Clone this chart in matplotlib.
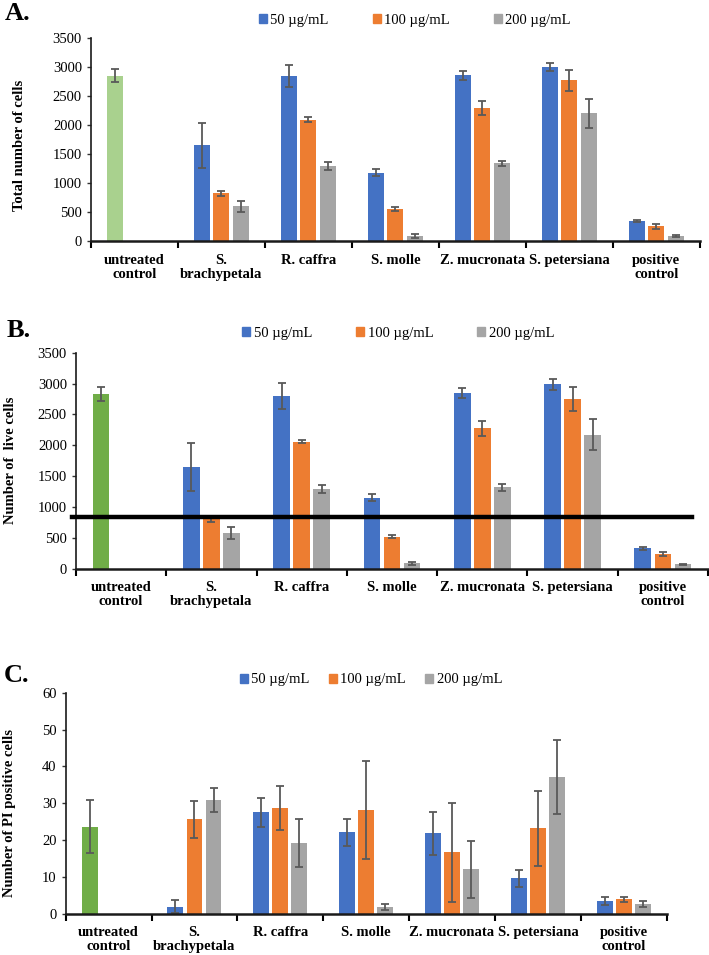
import numpy as np
import matplotlib
matplotlib.use('Agg')
import matplotlib.pyplot as plt
from matplotlib.patches import Patch

plt.rcParams['font.family'] = ['Liberation Serif', 'DejaVu Serif']

# categories on the x axis
categories = ['untreated\ncontrol', 'S.\nbrachypetala', 'R. caffra', 'S. molle',
              'Z. mucronata', 'S. petersiana', 'positive\ncontrol']
doses = ['50 µg/mL', '100 µg/mL', '200 µg/mL']

# A. total number of cells (untreated control has only one bar)
total_50 = [2850, 1650, 2845, 1180, 2855, 3000, 345]
total_100 = [np.nan, 820, 2095, 550, 2295, 2770, 255]
total_200 = [np.nan, 600, 1298, 88, 1338, 2207, 88]
total_50_err = [115, 390, 185, 65, 75, 75, 25]
total_100_err = [0, 50, 35, 40, 120, 180, 40]
total_200_err = [0, 95, 70, 30, 45, 250, 10]

# B. number of live cells
live_50 = [2826, 1650, 2800, 1152, 2843, 2988, 330]
live_100 = [np.nan, 800, 2058, 518, 2275, 2745, 243]
live_200 = [np.nan, 574, 1287, 85, 1320, 2172, 72]
live_50_err = [112, 390, 210, 62, 80, 85, 27]
live_100_err = [0, 45, 28, 25, 120, 195, 35]
live_200_err = [0, 95, 68, 22, 55, 255, 8]
live_threshold = 845

# C. number of PI positive cells
pi_50 = [23.6, 1.9, 27.5, 22.1, 21.8, 9.6, 3.5]
pi_100 = [np.nan, 25.7, 28.7, 28.1, 16.7, 23.2, 3.9]
pi_200 = [np.nan, 30.8, 19.3, 1.9, 12.1, 37.1, 2.6]
pi_50_err = [7.2, 1.8, 4.0, 3.7, 5.8, 2.3, 1.0]
pi_100_err = [0, 5.0, 6.0, 13.3, 13.4, 10.2, 0.7]
pi_200_err = [0, 3.3, 6.5, 0.8, 7.7, 10.0, 0.9]

blue = '#4472C4'
orange = '#ED7D31'
gray = '#A5A5A5'
err_color = '#595959'

fig = plt.figure(figsize=(7.09, 9.55), dpi=100)


def draw_panel(rect, s50, s100, s200, e50, e100, e200, ctrl_color, ymax, ystep,
               ylabel, ylabel_xy, letter, letter_xy, legend_xy, colspace):
    ax = fig.add_axes(rect)
    x = np.arange(len(categories))
    w = 0.185
    off = 0.222
    cols50 = [ctrl_color] + [blue] * (len(categories) - 1)
    ekw = dict(ecolor=err_color, elinewidth=1.3, capsize=3, capthick=1.3)
    ax.bar(x - off, s50, w, color=cols50, yerr=e50, error_kw=ekw, zorder=2)
    ax.bar(x, s100, w, color=orange, yerr=e100, error_kw=ekw, zorder=2)
    ax.bar(x + off, s200, w, color=gray, yerr=e200, error_kw=ekw, zorder=2)

    ax.set_xlim(-0.5, len(categories) - 0.5)
    ax.set_ylim(0, ymax)
    ax.set_yticks(np.arange(0, ymax + ystep / 2, ystep))
    ax.tick_params(axis='y', labelsize=10.5, length=3, width=1, color='#333333')

    # boundary ticks at major positions, labels at minor positions
    ax.set_xticks(np.arange(-0.5, len(categories), 1.0))
    ax.set_xticklabels([])
    ax.set_xticks(x, minor=True)
    ax.set_xticklabels(categories, minor=True, fontweight='bold', fontsize=10.5,
                       linespacing=1.1)
    ax.tick_params(axis='x', which='major', length=5, width=1.5, direction='out')
    ax.tick_params(axis='x', which='minor', length=0, pad=9)

    for s in ['top', 'right']:
        ax.spines[s].set_visible(False)
    ax.spines['bottom'].set_linewidth(1.8)
    ax.spines['left'].set_linewidth(1.2)
    ax.spines['bottom'].set_color('#1a1a1a')
    ax.spines['left'].set_color('#1a1a1a')

    ax.set_ylabel(ylabel, fontweight='bold', fontsize=10.5)
    ax.yaxis.set_label_coords(*ylabel_xy)

    fig.text(letter_xy[0], letter_xy[1], letter, fontsize=19, fontweight='bold',
             ha='left', va='center')

    handles = [Patch(color=blue), Patch(color=orange), Patch(color=gray)]
    fig.legend(handles, doses, ncol=3, frameon=False, fontsize=10.5,
               loc='center', bbox_to_anchor=legend_xy,
               handlelength=0.55, handleheight=0.55, handletextpad=0.25,
               columnspacing=colspace)
    return ax


draw_panel([0.1283, 0.7476, 0.8587, 0.2126], total_50, total_100, total_200,
           total_50_err, total_100_err, total_200_err, '#A9D18E', 3500, 500,
           'Total number of cells', (-0.106, 0.47), 'A.', (0.006, 0.986),
           (0.585, 0.979), 3.0)

axb = draw_panel([0.1072, 0.4045, 0.8914, 0.2262], live_50, live_100, live_200,
                 live_50_err, live_100_err, live_200_err, '#70AD47', 3500, 500,
                 'Number of  live cells', (-0.094, 0.50), 'B.', (0.010, 0.654),
                 (0.562, 0.651), 3.0)
axb.axhline(live_threshold, xmin=-0.006, xmax=0.975, color='black', lw=3.2,
            zorder=5, clip_on=False)

draw_panel([0.0927, 0.0432, 0.8476, 0.2314], pi_50, pi_100, pi_200,
           pi_50_err, pi_100_err, pi_200_err, '#70AD47', 60, 10,
           'Number of PI positive cells', (-0.083, 0.456), 'C.', (0.005, 0.293),
           (0.523, 0.288), 1.3)

fig.savefig('out.png', dpi=100)
